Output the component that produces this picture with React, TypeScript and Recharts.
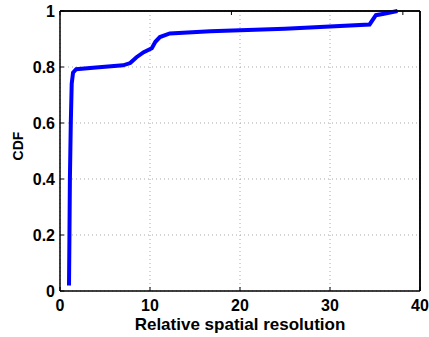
import { LineChart, Line, XAxis, YAxis, CartesianGrid, ReferenceLine } from "recharts"

const resolution = [1.0, 1.05, 1.1, 1.2, 1.3, 1.45, 1.8, 4, 7, 7.8, 8.5, 9.3, 10.2, 10.6, 11.1, 12.2, 16.7, 25, 34.4, 35.1, 36, 37.5]
const cdf = [0.02, 0.2, 0.4, 0.6, 0.74, 0.78, 0.792, 0.798, 0.806, 0.814, 0.835, 0.853, 0.867, 0.89, 0.907, 0.92, 0.928, 0.937, 0.952, 0.985, 0.99, 1.0]
const xTicks = [0, 10, 20, 30, 40]
const yTicks = [0, 0.2, 0.4, 0.6, 0.8, 1]

const data = resolution.map((x, i) => ({ x, y: cdf[i] }))

const font = "'Liberation Sans', Arial, sans-serif"
const tickStyle = { fontSize: 16, fontWeight: 700, fill: "#000", fontFamily: font }
const axisLine = { stroke: "#000", strokeWidth: 1.5 }

function YLabel({ viewBox }: any) {
  const cx = viewBox.x + 18
  const cy = viewBox.y + viewBox.height / 2 - 5
  return (
    <text
      transform={`translate(${cx}, ${cy}) rotate(-90)`}
      textAnchor="middle" dominantBaseline="central"
      style={{ fontSize: 14, fontWeight: 700, fill: "#000", fontFamily: font }}
    >
      CDF
    </text>
  )
}

export default function App() {
  return (
    <div style={{ position: "absolute", left: 0, top: 0, background: "#fff" }}>
      <LineChart width={429} height={337} data={data} margin={{ top: 10, right: 8, left: 0, bottom: 0 }}>
        <CartesianGrid stroke="#aaa" strokeDasharray="1 3" />
        <XAxis
          dataKey="x" type="number" domain={[0, 40]} ticks={xTicks}
          height={46} tick={tickStyle} tickSize={-4} tickMargin={13}
          axisLine={axisLine} tickLine={{ stroke: "#000" }}
          label={{
            value: "Relative spatial resolution", position: "insideBottom", offset: 7,
            style: { fontSize: 17, fontWeight: 700, fill: "#000", fontFamily: font },
          }}
        />
        <XAxis
          xAxisId="top" orientation="top" type="number" domain={[0, 40]} ticks={xTicks}
          height={1} tickFormatter={() => ""} tickSize={-4} axisLine={axisLine} tickLine={{ stroke: "#000" }}
        />
        <YAxis
          type="number" domain={[0, 1]} ticks={yTicks}
          width={60} tick={tickStyle} tickSize={-4} tickMargin={9}
          axisLine={axisLine} tickLine={{ stroke: "#000" }}
          label={<YLabel />}
        />
        <YAxis
          yAxisId="right" orientation="right" type="number" domain={[0, 1]} ticks={yTicks}
          width={1} tickFormatter={() => ""} tickSize={-4} axisLine={axisLine} tickLine={{ stroke: "#000" }}
        />
        <ReferenceLine y={1} stroke="#000" strokeWidth={1.5} />
        <ReferenceLine x={40} stroke="#000" strokeWidth={1.5} />
        <Line
          type="linear" dataKey="y" stroke="#0000ff" strokeWidth={4}
          dot={false} isAnimationActive={false}
        />
      </LineChart>
    </div>
  )
}
